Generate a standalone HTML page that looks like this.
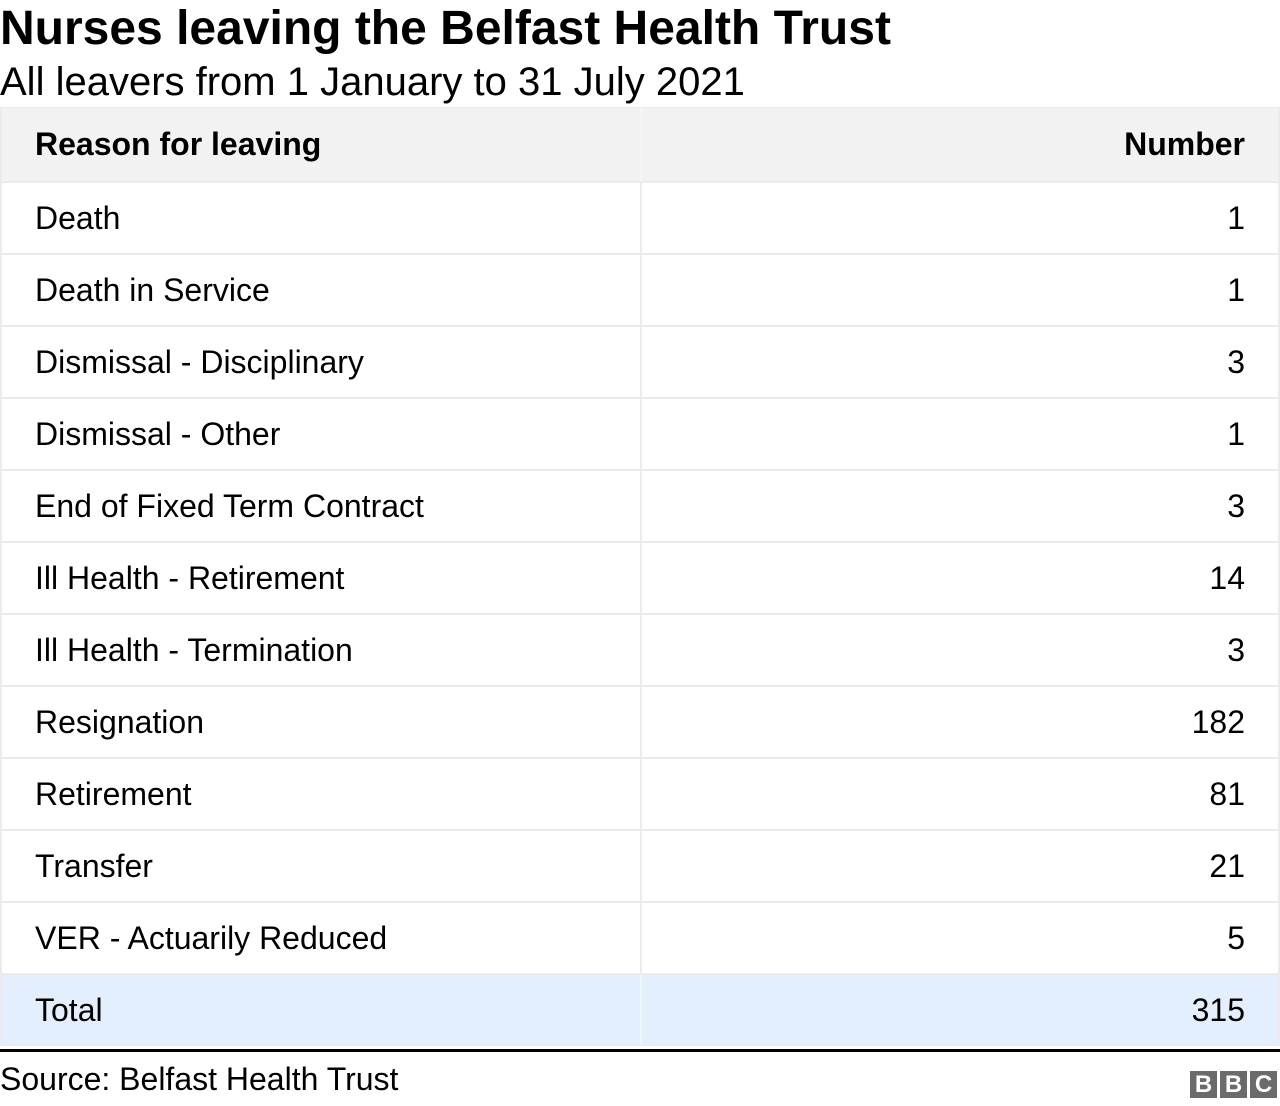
<!DOCTYPE html>
<html><head><meta charset="utf-8"><style>
body{margin:0;width:1280px;height:1106px;background:#fff;font-family:"Liberation Sans",Arial,sans-serif;color:#000;position:relative;overflow:hidden}
.a{position:absolute}
#title{left:0;top:2px;font-size:48px;font-weight:bold;line-height:54px}
#sub{left:0;top:60px;font-size:40px;line-height:44px}
#tbl{left:0;top:107px;width:1280px}
.row{position:absolute;left:0;width:1280px;height:70px;background:#fff}
.cell{position:absolute;top:0;height:100%;display:flex;align-items:center;font-size:32px}
.l{left:33px}
.r{right:33px}
.hdr{background:#f2f2f2;font-weight:bold}
.tot{background:#e3effc}
#foot{left:0;top:1062px;font-size:32px;line-height:34px}
</style></head><body>
<div class="a" id="title">Nurses leaving the Belfast Health Trust</div>
<div class="a" id="sub">All leavers from 1 January to 31 July 2021</div>
<div class="a" style="left:0;top:107px;width:1280px;height:939px;background:#ebebeb"></div>
<div class="a" id="tbl"></div>
<div class="a" style="left:0;top:1049px;width:1280px;height:3px;background:#000"></div>
<div class="a" id="foot">Source: Belfast Health Trust</div>
<div class="a" style="left:1190px;top:1071px;display:flex;gap:3px">
<div style="width:27px;height:27px;background:#6b6b6b;color:#fff;font-weight:bold;font-size:24px;text-align:center;line-height:28px">B</div>
<div style="width:27px;height:27px;background:#6b6b6b;color:#fff;font-weight:bold;font-size:24px;text-align:center;line-height:28px">B</div>
<div style="width:27px;height:27px;background:#6b6b6b;color:#fff;font-weight:bold;font-size:24px;text-align:center;line-height:28px">C</div>
</div>
<script>
const reasons=["Death","Death in Service","Dismissal - Disciplinary","Dismissal - Other","End of Fixed Term Contract","Ill Health - Retirement","Ill Health - Termination","Resignation","Retirement","Transfer","VER - Actuarily Reduced","Total"];
const numbers=["1","1","3","1","3","14","3","182","81","21","5","315"];
const tbl=document.getElementById('tbl');
function mk(cls,top,h,a,b,name){
  const r=document.createElement('div');
  r.className='row '+cls;r.style.top=top+'px';r.style.height=h+'px';
  
  
  const c1=document.createElement('div');c1.className='cell l';c1.textContent=a;
  
  
  const c2=document.createElement('div');c2.className='cell r';c2.textContent=b;
  
  
  const d=document.createElement('div');d.className='a';d.style.cssText='left:638px;top:0;width:2px;height:100%;background:#ebebeb';
  
  
  r.appendChild(c1);r.appendChild(d);r.appendChild(c2);tbl.appendChild(r);
  return r;
}
const h=mk('hdr',1,73,'Reason for leaving','Number','header-row');
h.style.left='2px';h.style.width='1276px';
h.children[1].style.background='#f6f6f6';
reasons.forEach((s,i)=>{
  const isTot=i===reasons.length-1;
  const r=mk(isTot?'tot':'',76+i*72,70,s,numbers[i],isTot?'total-row':'data-row');
  r.style.left='2px';r.style.width='1276px';
  if(isTot) r.children[1].style.background='#eef5fd';
});
</script>
</body></html>
